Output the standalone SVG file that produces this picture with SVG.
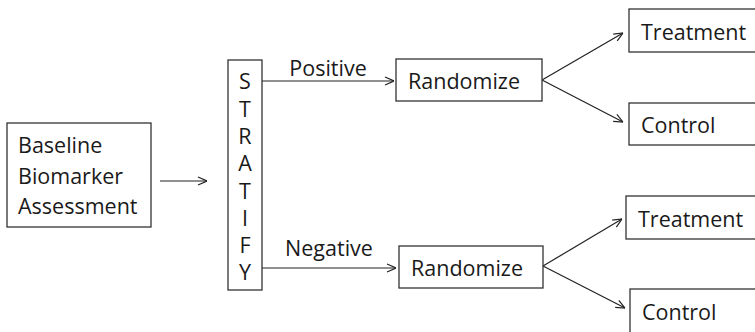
<svg xmlns="http://www.w3.org/2000/svg" width="755" height="332" viewBox="0 0 755 332">
<style>
.box{fill:#fff;stroke:#333;stroke-width:1.3}
.t{font-family:"Open Sans","Noto Sans",sans-serif;font-size:21.5px;fill:#1a1a1a}
.c{stroke:#222;stroke-width:1.2;fill:none;marker-end:url(#ah)}
</style>
<defs>
<marker id="ah" viewBox="0 0 10 10" refX="10" refY="5" markerWidth="10" markerHeight="10" markerUnits="userSpaceOnUse" orient="auto">
<path d="M1,1 L10,5 L1,9" fill="none" stroke="#222" stroke-width="1.2"/>
</marker>
</defs>
<rect width="755" height="332" fill="#fff"/>
<g id="connectors">
<line class="c" x1="160" y1="181" x2="207" y2="181"/>
<line class="c" x1="262" y1="81" x2="394" y2="81"/>
<line class="c" x1="262" y1="268" x2="396" y2="268"/>
<line class="c" x1="542" y1="80" x2="623" y2="33"/>
<line class="c" x1="542" y1="80" x2="623" y2="122"/>
<line class="c" x1="543" y1="266" x2="622" y2="219"/>
<line class="c" x1="543" y1="266" x2="625" y2="308"/>
<text class="t" x="328" y="76" text-anchor="middle">Positive</text>
<text class="t" x="329" y="256" text-anchor="middle">Negative</text>
</g>
<g id="baseline">
<rect class="box" x="7" y="123" width="144" height="104"/>
<text class="t" x="18" y="153">Baseline</text>
<text class="t" x="18" y="184">Biomarker</text>
<text class="t" x="18" y="214">Assessment</text>
</g>
<g id="stratify">
<rect class="box" x="228" y="60" width="34" height="230"/>
<text class="t" text-anchor="middle" x="245" y="89">S</text>
<text class="t" text-anchor="middle" x="245" y="117">T</text>
<text class="t" text-anchor="middle" x="245" y="144">R</text>
<text class="t" text-anchor="middle" x="245" y="171">A</text>
<text class="t" text-anchor="middle" x="245" y="199">T</text>
<text class="t" text-anchor="middle" x="245" y="226">I</text>
<text class="t" text-anchor="middle" x="245" y="253">F</text>
<text class="t" text-anchor="middle" x="245" y="280">Y</text>
</g>
<g id="randomize-pos">
<rect class="box" x="396" y="59" width="146" height="42"/>
<text class="t" x="408" y="89">Randomize</text>
</g>
<g id="treatment-pos">
<rect class="box" x="629" y="9" width="140" height="43"/>
<text class="t" x="641" y="40">Treatment</text>
</g>
<g id="control-pos">
<rect class="box" x="629" y="103" width="140" height="42"/>
<text class="t" x="641" y="133">Control</text>
</g>
<g id="randomize-neg">
<rect class="box" x="399" y="246" width="144" height="42"/>
<text class="t" x="411" y="276">Randomize</text>
</g>
<g id="treatment-neg">
<rect class="box" x="626" y="196" width="140" height="43"/>
<text class="t" x="638" y="227">Treatment</text>
</g>
<g id="control-neg">
<rect class="box" x="630" y="289" width="140" height="60"/>
<text class="t" x="642" y="320">Control</text>
</g>
</svg>
